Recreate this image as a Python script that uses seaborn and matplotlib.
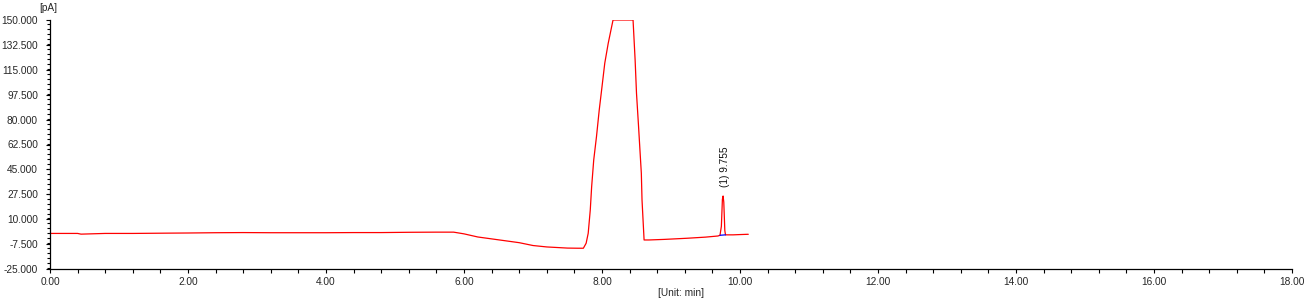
import matplotlib
matplotlib.use("Agg")
import matplotlib.pyplot as plt
from matplotlib.ticker import MultipleLocator, FormatStrFormatter
import seaborn as sns
import pandas as pd

# ---- data ----
time_min = [0.00, 0.40, 0.45, 0.80, 1.20, 1.70, 2.00, 2.40, 2.80, 3.20, 3.60,
            4.00, 4.40, 4.80, 5.20, 5.60, 5.85, 6.00, 6.20, 6.50, 6.80, 7.00,
            7.20, 7.50, 7.65, 7.73, 7.77, 7.80, 7.83, 7.85, 7.88, 7.92, 7.96,
            8.00, 8.04, 8.09, 8.13, 8.16, 8.45, 8.48, 8.50, 8.53, 8.55, 8.57,
            8.58, 8.60, 8.61, 8.68, 8.90, 9.23, 9.50, 9.68, 9.71, 9.73, 9.745,
            9.755, 9.765, 9.78, 9.79, 9.90, 10.00, 10.12]
signal_pa = [0.0, 0.0, -0.5, 0.0, 0.0, 0.2, 0.3, 0.5, 0.6, 0.5, 0.5,
             0.5, 0.6, 0.6, 0.8, 0.9, 0.9, -0.3, -2.5, -4.5, -6.5, -8.5,
             -9.5, -10.3, -10.4, -10.4, -6.9, 0.1, 16.5, 32.9, 51.6, 68.0, 86.8,
             103.1, 119.6, 133.6, 143.0, 150.0, 150.0, 121.9, 98.5, 75.0, 58.6, 42.3,
             23.5, 4.7, -4.6, -4.6, -4.2, -3.4, -2.6, -1.8, -1.3, 5.0, 24.0,
             26.3, 22.0, 2.0, -1.0, -1.0, -0.8, -0.6]

# integration baseline under peak (1)
integ_time = [9.71, 9.79]
integ_signal = [-1.3, -1.0]

peak_label = "(1) 9.755"
peak_label_time = 9.78
peak_label_signal = 32.5

x_ticks = [0, 2, 4, 6, 8, 10, 12, 14, 16, 18]
y_ticks = [-25, -7.5, 10, 27.5, 45, 62.5, 80, 97.5, 115, 132.5, 150]

# ---- plotting ----
sns.set_style("ticks")
plt.rcParams['font.family'] = ['Liberation Sans', 'DejaVu Sans']
FS = 7.3

fig = plt.figure(figsize=(13.16, 3.04), dpi=100)
ax = fig.add_axes([50/1316, 1 - 269/304, (1292 - 50)/1316, (269 - 20)/304])

df = pd.DataFrame({"t": time_min, "v": signal_pa})
sns.lineplot(data=df, x="t", y="v", ax=ax, color="#ff0000", lw=0.9,
             estimator=None, sort=False)
dfi = pd.DataFrame({"t": integ_time, "v": integ_signal})
sns.lineplot(data=dfi, x="t", y="v", ax=ax, color="#0000ff", lw=0.9,
             estimator=None, sort=False)

ax.text(peak_label_time, peak_label_signal, peak_label, rotation=90,
        ha="center", va="bottom", fontsize=FS, color="#111111")

ax.set_xlim(0, 18)
ax.set_ylim(-25, 150)
ax.set_xticks(x_ticks)
ax.set_yticks(y_ticks)
ax.xaxis.set_minor_locator(MultipleLocator(0.4))
ax.yaxis.set_minor_locator(MultipleLocator(3.5))
ax.xaxis.set_major_formatter(FormatStrFormatter("%.2f"))
ax.yaxis.set_major_formatter(FormatStrFormatter("%.3f"))
ax.tick_params(axis="both", which="major", labelsize=FS, color="black",
               width=0.8, direction="out")
ax.tick_params(axis="x", which="major", length=3.2, pad=2.5)
ax.tick_params(axis="x", which="minor", length=2.6, width=0.8, color="black")
ax.tick_params(axis="y", which="major", length=3.2, pad=5.5)
ax.tick_params(axis="y", which="minor", length=2.0, width=0.8, color="black")
ax.set_xlabel("")
ax.set_ylabel("")
for s in ["top", "right"]:
    ax.spines[s].set_visible(False)
for s in ["left", "bottom"]:
    ax.spines[s].set_color("black")
    ax.spines[s].set_linewidth(0.9)

fig.text(48/1316, 1 - 8/304, "[pA]", ha="center", va="center", fontsize=FS)
fig.text(681/1316, 1 - 293.5/304, "[Unit: min]", ha="center", va="center",
         fontsize=FS)

fig.savefig("out.png", dpi=100, facecolor="white")
